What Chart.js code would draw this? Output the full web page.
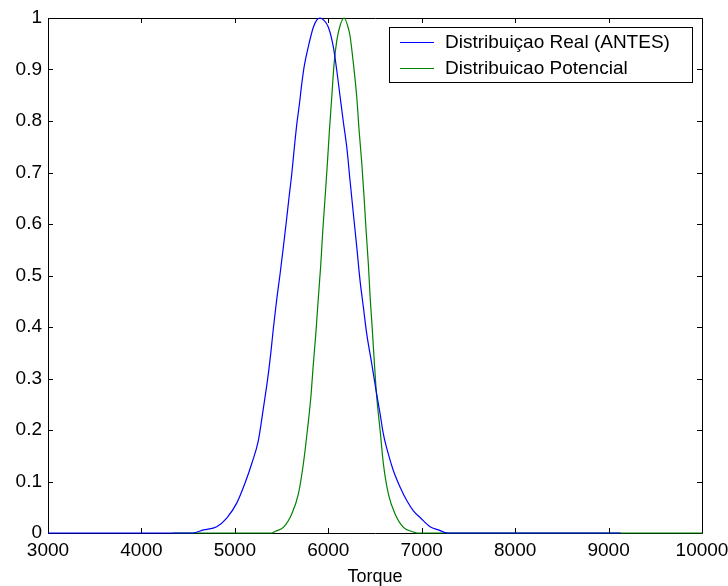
<!DOCTYPE html>
<html>
<head>
<meta charset="utf-8">
<script src="https://cdn.jsdelivr.net/npm/chart.js@4/dist/chart.umd.min.js"></script>
<style>
  html, body { margin: 0; padding: 0; background: #fff; }
  #wrap { width: 728px; height: 586px; }
</style>
</head>
<body>
<div id="wrap"><canvas id="torqueChart" width="728" height="586"></canvas></div>
<script>
// --- dados ---
const realLabel = 'Distribuiçao Real (ANTES)';
const realTorque = [3000, 4550, 4663, 4806, 4913, 5020, 5109, 5181, 5252, 5305, 5359, 5388, 5412, 5449, 5484, 5519, 5548, 5580, 5609, 5637, 5663, 5691, 5716, 5744, 5787, 5840, 5876, 5912, 5950, 6001, 6055, 6091, 6126, 6162, 6198, 6233, 6269, 6305, 6340, 6376, 6412, 6466, 6512, 6555, 6590, 6643, 6697, 6769, 6840, 6911, 6983, 7090, 7179, 7280, 9130];
const realValue  = [0, 0, 0.006, 0.012, 0.029, 0.058, 0.097, 0.135, 0.18, 0.242, 0.31, 0.355, 0.397, 0.455, 0.503, 0.555, 0.600, 0.652, 0.697, 0.749, 0.794, 0.833, 0.872, 0.908, 0.945, 0.982, 0.996, 1.0, 0.996, 0.982, 0.943, 0.898, 0.848, 0.797, 0.749, 0.684, 0.619, 0.555, 0.490, 0.438, 0.386, 0.328, 0.276, 0.231, 0.192, 0.153, 0.121, 0.089, 0.063, 0.043, 0.030, 0.012, 0.006, 0, 0];

const potLabel = 'Distribuicao Potencial';
const potTorque = [4335, 5400, 5430, 5519, 5609, 5680, 5733, 5776, 5813, 5840, 5869, 5894, 5920, 5941, 5966, 5990, 6012, 6037, 6062, 6091, 6126, 6169, 6215, 6233, 6269, 6305, 6330, 6359, 6383, 6405, 6429, 6448, 6472, 6494, 6519, 6555, 6590, 6643, 6715, 6804, 6894, 6950, 10000];
const potValue  = [0, 0, 0.003, 0.011, 0.037, 0.076, 0.134, 0.199, 0.263, 0.328, 0.393, 0.458, 0.522, 0.587, 0.652, 0.717, 0.781, 0.846, 0.911, 0.956, 0.985, 1.0, 0.98, 0.965, 0.911, 0.846, 0.781, 0.717, 0.652, 0.587, 0.522, 0.458, 0.393, 0.328, 0.263, 0.199, 0.134, 0.076, 0.037, 0.011, 0.003, 0, 0];

const xTitle = 'Torque';
const xMin = 3000, xMax = 10000, xStep = 1000;
const yMin = 0, yMax = 1, yStep = 0.1;

const FONT = '"Liberation Sans", Arial, Helvetica, sans-serif';

function toPoints(xs, ys) {
  return xs.map((v, i) => ({ x: v, y: ys[i] }));
}

// moldura e marcas para dentro (estilo MATLAB)
const framePlugin = {
  id: 'frame',
  beforeDatasetsDraw(chart) {
    const { ctx, chartArea: a, scales: { x, y } } = chart;
    const len = 5;
    ctx.save();
    ctx.strokeStyle = '#000';
    ctx.lineWidth = 1;
    ctx.beginPath();
    ctx.rect(a.left + 0.5, a.top + 0.5, a.right - a.left, a.bottom - a.top);
    x.ticks.forEach(t => {
      const px = Math.round(x.getPixelForValue(t.value)) + 0.5;
      ctx.moveTo(px, a.bottom); ctx.lineTo(px, a.bottom - len);
      ctx.moveTo(px, a.top); ctx.lineTo(px, a.top + len);
    });
    y.ticks.forEach(t => {
      const py = Math.round(y.getPixelForValue(t.value)) + 0.5;
      ctx.moveTo(a.left, py); ctx.lineTo(a.left + len, py);
      ctx.moveTo(a.right, py); ctx.lineTo(a.right - len, py);
    });
    ctx.stroke();
    ctx.restore();
  }
};

// legenda desenhada dentro da area do grafico
const boxLegendPlugin = {
  id: 'boxLegend',
  afterDatasetsDraw(chart) {
    const ctx = chart.ctx;
    const bx = 389.5, by = 27.5, bw = 303, bh = 55;
    ctx.save();
    ctx.fillStyle = '#fff';
    ctx.fillRect(bx, by, bw, bh);
    ctx.strokeStyle = '#000';
    ctx.lineWidth = 1;
    ctx.strokeRect(bx, by, bw, bh);
    ctx.font = '19px ' + FONT;
    ctx.textBaseline = 'middle';
    ctx.fillStyle = '#000';
    chart.data.datasets.forEach((ds, i) => {
      const ly = 42.5 + i * 26;
      ctx.strokeStyle = ds.borderColor;
      ctx.beginPath();
      ctx.moveTo(400, ly); ctx.lineTo(434, ly);
      ctx.stroke();
      ctx.fillText(ds.label, 445, ly);
    });
    ctx.restore();
  }
};

const ctx = document.getElementById('torqueChart').getContext('2d');
new Chart(ctx, {
  type: 'line',
  data: {
    datasets: [{
      label: realLabel,
      data: toPoints(realTorque, realValue),
      borderColor: '#0000ff', borderWidth: 1.2, pointRadius: 0,
      cubicInterpolationMode: 'monotone', clip: 3
    }, {
      label: potLabel,
      data: toPoints(potTorque, potValue),
      borderColor: '#008000', borderWidth: 1.2, pointRadius: 0,
      cubicInterpolationMode: 'monotone', clip: 3
    }]
  },
  options: {
    responsive: false, animation: false, devicePixelRatio: 1,
    layout: { padding: { top: 18, right: 26, left: 0, bottom: 0 } },
    plugins: { legend: { display: false }, tooltip: { enabled: false } },
    scales: {
      x: {
        type: 'linear', min: xMin, max: xMax,
        grid: { display: false, drawTicks: false },
        border: { display: false },
        ticks: {
          stepSize: xStep, padding: 6, maxRotation: 0, autoSkip: false,
          color: '#000', font: { family: FONT, size: 19 },
          callback: (v) => String(v)
        },
        title: {
          display: true, text: xTitle, color: '#000',
          font: { family: FONT, size: 18, lineHeight: 1 }, padding: { top: 0, bottom: 0 }
        },
        afterFit(scale) { scale.height = 53; scale.paddingLeft = 0; scale.paddingRight = 0; }
      },
      y: {
        min: yMin, max: yMax,
        grid: { display: false, drawTicks: false },
        border: { display: false },
        ticks: {
          stepSize: yStep, padding: 6,
          color: '#000', font: { family: FONT, size: 19 },
          callback: (v) => String(Number(v.toFixed(1)))
        },
        afterFit(scale) { scale.width = 48; scale.paddingTop = 0; scale.paddingBottom = 0; }
      }
    }
  },
  plugins: [framePlugin, boxLegendPlugin]
});
</script>
</body>
</html>
